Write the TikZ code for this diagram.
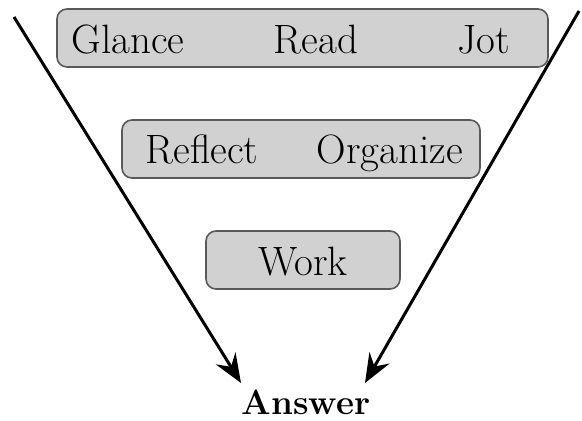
\documentclass[tikz,border=0pt]{standalone}
\usetikzlibrary{arrows.meta}
\begin{document}
\begin{tikzpicture}[x=1pt,y=-1pt,
  stagebox/.style={draw=black!65,fill=black!18,line width=1.6pt,rounded corners=10pt,inner sep=0pt},
  word/.style={font=\fontsize{41}{44}\selectfont,inner sep=0pt,anchor=base},
  flow/.style={line width=3pt,-{Stealth[length=29pt,width=23pt,inset=10pt]}}]
\useasboundingbox (0,0) rectangle (582,421);
% boxes
\node[stagebox,minimum width=491pt,minimum height=58pt] (top) at (302.5,38) {};
\node[stagebox,minimum width=358pt,minimum height=58pt] (mid) at (301,149) {};
\node[stagebox,minimum width=194pt,minimum height=58pt] (low) at (303,260) {};
% words
\node[word] (glance) at (128,53) {Glance};
\node[word] (read) at (316,53) {Read};
\node[word] (jot) at (484,53) {Jot};
\node[word] (reflect) at (202,163) {Reflect};
\node[word] (organize) at (390,163) {Organize};
\node[word] (work) at (303,275) {Work};
\node[font=\bfseries\fontsize{35}{40}\selectfont,inner sep=0pt,anchor=base] (answer) at (306,414) {Answer};
% arrows
\coordinate (ls) at (14,17);
\coordinate (lt) at (241,383);
\coordinate (rs) at (579,11);
\coordinate (rt) at (365,383);
\draw[flow] (ls) -- (lt);
\draw[flow] (rs) -- (rt);
\end{tikzpicture}
\end{document}
